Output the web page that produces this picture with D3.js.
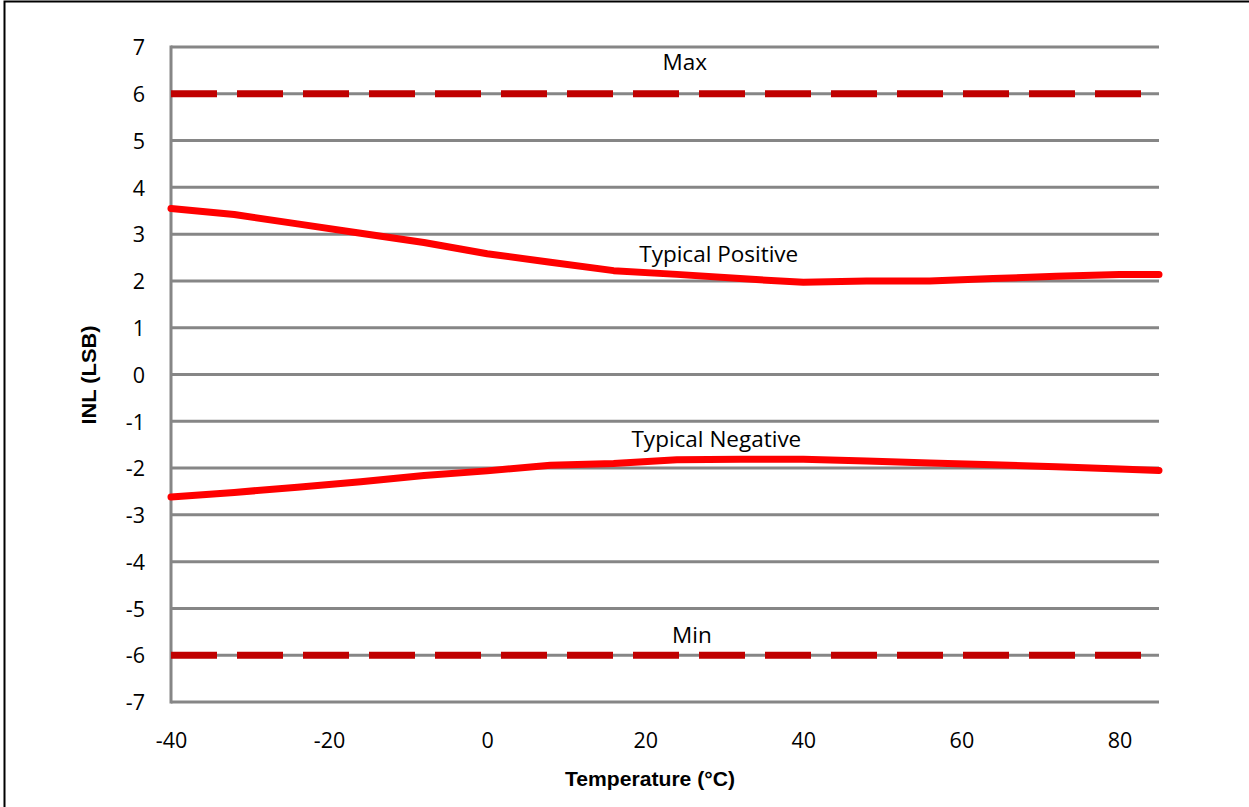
<!DOCTYPE html>
<html><head><meta charset="utf-8">
<script src="https://cdn.jsdelivr.net/npm/d3@7/dist/d3.min.js"></script>
<style>body{margin:0;background:#fff}svg{display:block}</style>
</head><body><svg id="c" width="1249" height="807"></svg>
<script>
const temps = [-40,-32,-24,-16,-8,0,8,16,24,32,40,48,56,64,72,80,85];
const typicalPositive = [3.55,3.42,3.22,3.02,2.82,2.58,2.40,2.22,2.14,2.05,1.97,2.00,2.00,2.05,2.10,2.14,2.14];
const typicalNegative = [-2.62,-2.52,-2.41,-2.29,-2.16,-2.06,-1.94,-1.90,-1.82,-1.81,-1.81,-1.85,-1.89,-1.93,-1.97,-2.02,-2.05];
const maxLimit = [6,6];
const minLimit = [-6,-6];
const limitTemps = [-40,85];
const xTicks = [-40,-20,0,20,40,60,80];
const yTicks = [-7,-6,-5,-4,-3,-2,-1,0,1,2,3,4,5,6,7];
const labels = [
  {text:"Max", t:25.0, v:6.51},
  {text:"Typical Positive", t:29.3, v:2.40},
  {text:"Typical Negative", t:29.0, v:-1.55},
  {text:"Min", t:25.9, v:-5.74}
];

const svg = d3.select("#c");
svg.append("rect").attr("x",4.5).attr("y",1.5).attr("width",1260).attr("height",820)
  .attr("fill","none").attr("stroke","#000").attr("stroke-width",2);

const x = d3.scaleLinear().domain([-40,85]).range([171,1159]);
const y = d3.scaleLinear().domain([-7,7]).range([702,47]);
const grey = "#868686";
const font = "Open Sans, sans-serif";

svg.append("g").selectAll("line").data(yTicks).join("line")
  .attr("x1",x(-40)).attr("x2",x(85)).attr("y1",d=>y(d)).attr("y2",d=>y(d))
  .attr("stroke",grey).attr("stroke-width",3);
svg.append("line").attr("x1",x(-40)).attr("x2",x(-40)).attr("y1",y(7)-1.5).attr("y2",y(-7)+1.5)
  .attr("stroke",grey).attr("stroke-width",3);

const fmt = d=>d<0?"-"+Math.abs(d):String(d);
const yAxis = d3.axisLeft(y).tickValues(yTicks).tickSize(0).tickPadding(0).tickFormat(fmt);
const ya = svg.append("g").attr("transform","translate(145,0)").call(yAxis);
ya.select(".domain").remove();
ya.selectAll("text").attr("font-family",font).attr("font-size",21.5).attr("fill","#000").attr("dy","0.36em");

const xAxis = d3.axisBottom(x).tickValues(xTicks).tickSize(0).tickPadding(0).tickFormat(fmt);
const xa = svg.append("g").attr("transform","translate(0,748)").call(xAxis);
xa.select(".domain").remove();
xa.selectAll("text").attr("font-family",font).attr("font-size",21.5).attr("fill","#000").attr("dy","0");

const lim = d3.line().x((d,i)=>x(limitTemps[i])).y(d=>y(d));
[maxLimit,minLimit].forEach(arr=>{
  svg.append("path").attr("d",lim(arr)).attr("fill","none").attr("stroke","#C00000")
    .attr("stroke-width",7).attr("stroke-dasharray","46,20");
});

const ln = d3.line().x((d,i)=>x(temps[i])).y(d=>y(d)).curve(d3.curveLinear);
[typicalPositive,typicalNegative].forEach(arr=>{
  svg.append("path").attr("d",ln(arr)).attr("fill","none").attr("stroke","#FF0000")
    .attr("stroke-width",7).attr("stroke-linejoin","round").attr("stroke-linecap","round");
});

svg.append("g").selectAll("text").data(labels).join("text")
  .attr("x",d=>x(d.t)).attr("y",d=>y(d.v)).attr("text-anchor","middle")
  .attr("font-family",font).attr("font-size",22.5).attr("fill","#000")
  .text(d=>d.text);

svg.append("text").attr("x",650).attr("y",786).attr("text-anchor","middle")
  .attr("font-family","Liberation Sans, Arial, sans-serif").attr("font-weight","bold").attr("font-size",20)
  .attr("textLength",170).attr("lengthAdjust","spacingAndGlyphs")
  .text("Temperature (°C)");
svg.append("text").attr("transform","translate(96,375) rotate(-90)").attr("text-anchor","middle")
  .attr("font-family","Liberation Sans, Arial, sans-serif").attr("font-weight","bold").attr("font-size",20)
  .attr("textLength",99).attr("lengthAdjust","spacingAndGlyphs")
  .text("INL (LSB)");
</script></body></html>
